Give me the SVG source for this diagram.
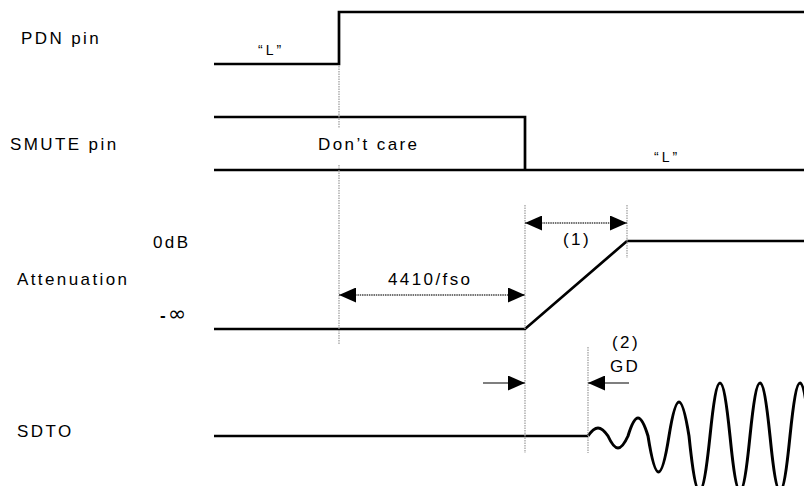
<svg xmlns="http://www.w3.org/2000/svg" width="804" height="486" viewBox="0 0 804 486">
<style>
.sig{fill:none;stroke:#000;stroke-width:2.7;stroke-linejoin:miter}
.wave{fill:none;stroke:#000;stroke-width:3;stroke-linejoin:round}
.guide{fill:none;stroke:#999;stroke-width:1.2;stroke-dasharray:1.5,1}
.dim{fill:none;stroke:#444;stroke-width:1.3;stroke-dasharray:1.5,0.8}
.dims{fill:none;stroke:#555;stroke-width:1.4}
.lbl{font-family:"Liberation Sans",Arial,sans-serif;font-size:17px;letter-spacing:2.4px;fill:#000}
.sm{font-family:"Liberation Sans",Arial,sans-serif;font-size:14px;letter-spacing:3px;fill:#000}
</style>
<defs>
<marker id="ah" markerUnits="userSpaceOnUse" markerWidth="17" markerHeight="15" refX="17" refY="7.5" orient="auto-start-reverse" viewBox="0 0 17 15">
<path d="M0,0 L17,7.5 L0,15 z" fill="#000"/>
</marker>
</defs>
<rect width="804" height="486" fill="#fff"/>
<g id="labels">
<text class="lbl" x="21" y="44">PDN pin</text>
<text class="lbl" x="10" y="150">SMUTE pin</text>
<text class="lbl" x="17" y="285">Attenuation</text>
<text class="lbl" x="17" y="437">SDTO</text>
<text class="lbl" x="153" y="248">0dB</text>
<text class="lbl" x="160" y="321" style="font-weight:bold">-<tspan dx="0" style="font-family:'DejaVu Sans',sans-serif;font-weight:normal;font-size:22px;letter-spacing:0">∞</tspan></text>
</g>
<g id="pdn">
<path class="sig" d="M214,64 H339 V12 H804"/>
<text class="sm" x="258" y="55">“L”</text>
</g>
<g id="smute">
<path class="sig" d="M214,117 H525 V170"/>
<path class="sig" d="M214,170 H804"/>
<text class="lbl" x="318" y="150">Don’t care</text>
<text class="sm" x="654" y="162">“L”</text>
</g>
<g id="attenuation">
<path class="sig" d="M214,329 H525 L627,241 H804"/>
</g>
<g id="sdto">
<path class="sig" d="M214,436 H588"/>
<path class="wave" d="M588,436 C595.3,425.3 600.7,425.3 608,436 C615.3,452 620.7,452 628,436 C635.3,412 640.7,412 648,436 C655.6,484 661.4,484 669,436 C676.3,390.7 681.7,390.7 689,436 C696.6,509 702.4,509 710,436 C717.3,365.3 722.7,365.3 730,436 C737.3,509 742.7,509 750,436 C757.3,365.3 762.7,365.3 770,436 C777.3,509 782.7,509 790,436 C797.3,365.3 802.7,365.3 810,436"/>
</g>
<g id="connectors">
<path class="guide" d="M339,66 V128 M339,165 V345"/>
<path class="guide" d="M525,205 V453"/>
<path class="guide" d="M627,205 V258"/>
<path class="guide" d="M588,347 V453"/>
<line class="dim" x1="339" y1="295" x2="525" y2="295" marker-start="url(#ah)" marker-end="url(#ah)"/>
<line class="dim" x1="525" y1="223" x2="627" y2="223" marker-start="url(#ah)" marker-end="url(#ah)"/>
<line class="dims" x1="483" y1="383" x2="525" y2="383" marker-end="url(#ah)"/>
<line class="dims" x1="629" y1="383" x2="588" y2="383" marker-end="url(#ah)"/>
</g>
<g id="dim-labels">
<text class="lbl" x="388" y="285">4410/fso</text>
<text class="lbl" x="563" y="245">(1)</text>
<text class="lbl" x="612" y="348">(2)</text>
<text class="lbl" x="610" y="372">GD</text>
</g>
</svg>
